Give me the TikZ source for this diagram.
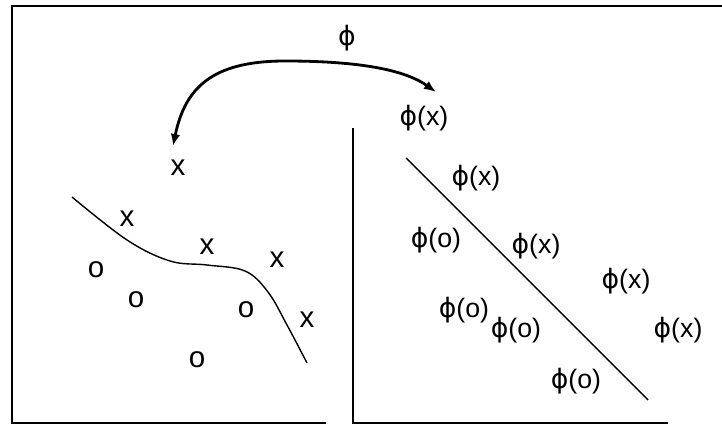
\documentclass[tikz,border=0pt]{standalone}
\usepackage{fontspec}
\setmainfont{Liberation Sans}
\newfontfamily\griega{DejaVu Sans}
\newcommand{\fii}{{\griega ϕ}}
\usetikzlibrary{arrows.meta}

\begin{document}
\begin{tikzpicture}[
  x=0.025cm,y=-0.025cm,
  punto/.style={font=\fontsize{21}{22}\selectfont,inner sep=0pt},
  imagen/.style={font=\fontsize{19}{22}\selectfont,inner sep=0pt},
  marco/.style={line width=2pt,line cap=rect},
  curva/.style={line width=1pt},
  mapa/.style={{Latex[length=3mm,width=2.4mm]}-{Latex[length=3mm,width=2.4mm]},line width=2pt}
]
  \useasboundingbox (0,0) rectangle (722,426);
  % Marco y separacion de los dos espacios
  \draw[marco] (722,6)--(12,6)--(12,423)--(325,423);
  \draw[line width=1.4pt] (353,128)--(353,423)--(668,423);

  % Espacio de entrada
  \node[punto] (x0) at (178,168) {x};
  \node[punto] (x1) at (127,219) {x};
  \node[punto] (x2) at (207,247) {x};
  \node[punto] (x3) at (277,260) {x};
  \node[punto] (x4) at (307,320) {x};
  \node[punto] (o1) at (96,270) {o};
  \node[punto] (o2) at (136,300) {o};
  \node[punto] (o3) at (246,310) {o};
  \node[punto] (o4) at (197,360) {o};
  \draw[curva] plot[smooth,tension=0.6] coordinates
    {(72,197) (127,240) (170,261) (207,265) (245,271) (268,292) (287,325) (307,363)};

  % Espacio de caracteristicas
  \node[imagen] (fx0) at (424,118) {\fii(x)};
  \node[imagen] (fx1) at (476,178) {\fii(x)};
  \node[imagen] (fx2) at (536,246) {\fii(x)};
  \node[imagen] (fx3) at (626,281) {\fii(x)};
  \node[imagen] (fx4) at (678,330) {\fii(x)};
  \node[imagen] (fo1) at (436,240) {\fii(o)};
  \node[imagen] (fo2) at (464,310) {\fii(o)};
  \node[imagen] (fo3) at (516,330) {\fii(o)};
  \node[imagen] (fo4) at (576,381) {\fii(o)};
  \coordinate (sepA) at (406,158);
  \coordinate (sepB) at (648,400);
  \draw[curva] (sepA)--(sepB);

  % Transformacion
  \node[imagen] (phi) at (347,38) {\fii};
  \coordinate (mapL) at ([shift={(-5,-22)}]x0.center);
  \coordinate (mapR) at ([shift={(12,-26)}]fx0.center);
  \draw[mapa] (mapL) .. controls (185,88) and (212,61) .. (285,61)
    .. controls (360,61) and (405,70) .. (mapR);
\end{tikzpicture}
\end{document}
